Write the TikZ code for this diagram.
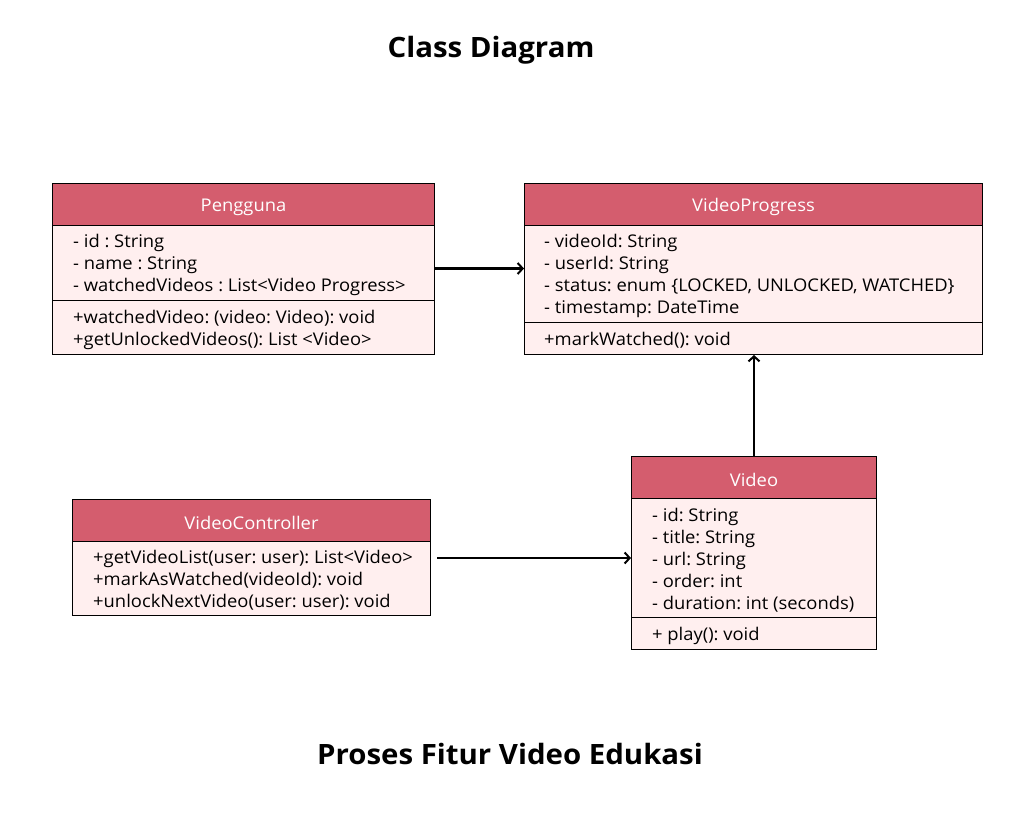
\documentclass[tikz,border=0pt]{standalone}
\usepackage{fontspec}
\setmainfont[FakeStretch=1.05]{Open Sans}
\usetikzlibrary{arrows.meta}
\definecolor{hdrc}{RGB}{212,93,110}
\definecolor{bodyc}{RGB}{255,239,239}
\frenchspacing
\begin{document}
\begin{tikzpicture}[x=1pt,y=-1pt,
  every node/.style={font=\fontsize{17.5}{22}\selectfont},
  hdr/.style={draw=black, line width=1pt, fill=hdrc, minimum height=42pt, inner sep=0pt, anchor=north west},
  sect/.style={draw=black, line width=1pt, fill=bodyc, anchor=north west, inner sep=0pt},
  htxt/.style={text=white, inner sep=0pt, yshift=-2.5pt},
  btxt/.style={anchor=west, align=left, inner sep=0pt, xshift=21pt, yshift=-2pt},
  arr/.style={line width=2.2pt, -{Straight Barb[length=5pt,width=11pt,line width=2pt]}},
  ttl/.style={font=\fontsize{28}{32}\selectfont\bfseries}]
\useasboundingbox[fill=white] (0,0) rectangle (1020,816);

\node[ttl] (t1) at (491,50) {Class Diagram};
\node[ttl] (t2) at (510,754) {Proses Fitur Video Edukasi};

% Pengguna
\node[hdr, minimum width=382pt] (pg) at (52,183) {};
\node[sect, minimum width=382pt, minimum height=75pt] (pga) at (52,225) {};
\node[sect, minimum width=382pt, minimum height=54pt] (pgm) at (52,300) {};
\node[htxt] (pgt) at (pg.center) {Pengguna};
\node[btxt] (pgat) at (pga.west) {- id : String\\- name : String\\- watchedVideos : List<Video Progress>};
\node[btxt] (pgmt) at (pgm.west) {+watchedVideo: (video: Video): void\\+getUnlockedVideos(): List <Video>};

% VideoProgress
\node[hdr, minimum width=458pt] (vp) at (524,183) {};
\node[sect, minimum width=458pt, minimum height=97pt] (vpa) at (524,225) {};
\node[sect, minimum width=458pt, minimum height=32pt] (vpm) at (524,322) {};
\node[htxt] (vpt) at (vp.center) {VideoProgress};
\node[btxt, xshift=-1pt] (vpat) at (vpa.west) {- videoId: String\\- userId: String\\- status: enum \{LOCKED, UNLOCKED, WATCHED\}\\- timestamp: DateTime};
\node[btxt, xshift=-1pt] (vpmt) at (vpm.west) {+markWatched(): void};

% Video
\node[hdr, minimum width=245pt] (vh) at (631,456) {};
\node[sect, minimum width=245pt, minimum height=119pt] (va) at (631,498) {};
\node[sect, minimum width=245pt, minimum height=32pt] (vm) at (631,617) {};
\node[htxt] (vht) at (vh.center) {Video};
\node[btxt] (vat) at (va.west) {- id: String\\- title: String\\- url: String\\- order: int\\- duration: int (seconds)};
\node[btxt] (vmt) at (vm.west) {+ play(): void};

% VideoController
\node[hdr, minimum width=358pt] (vc) at (72,499) {};
\node[sect, minimum width=358pt, minimum height=74pt] (vca) at (72,541) {};
\node[htxt] (vct) at (vc.center) {VideoController};
\node[btxt] (vcat) at (vca.west) {+getVideoList(user: user): List<Video>\\+markAsWatched(videoId): void\\+unlockNextVideo(user: user): void};

% connectors
\draw[arr] ([yshift=-5.5pt]pga.east) -- ([yshift=-5.5pt]pga.east -| vpa.west);
\draw[arr] ([xshift=6pt]vca.east |- va.west) -- (va.west);
\draw[arr] (vh.north) -- (vh.north |- vpm.south);
\end{tikzpicture}
\end{document}
